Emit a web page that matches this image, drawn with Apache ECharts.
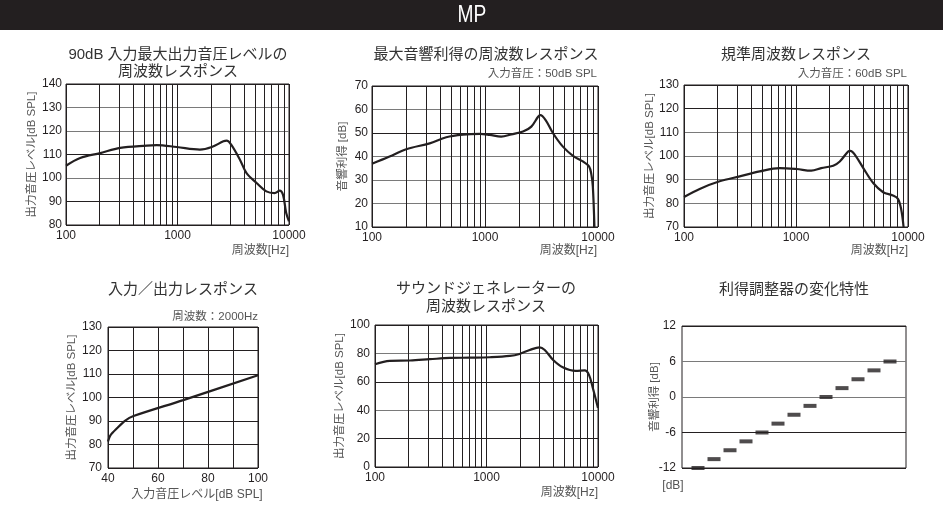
<!DOCTYPE html>
<html><head><meta charset="utf-8">
<script src="https://cdn.jsdelivr.net/npm/echarts@6/dist/echarts.min.js"></script>
<style>html,body{margin:0;padding:0;background:#fff}#c{width:943px;height:514px}</style>
</head><body><div id="c"></div>
<script>
// ---------- data ----------
const chartTitle = 'MP';
const panelTitles = ['90dB 入力最大出力音圧レベルの\n周波数レスポンス', '最大音響利得の周波数レスポンス', '規準周波数レスポンス',
  '入力／出力レスポンス', 'サウンドジェネレーターの\n周波数レスポンス', '利得調整器の変化特性'];
const panelNotes = ['入力音圧：50dB SPL', '入力音圧：60dB SPL', '周波数：2000Hz'];
const freqAxisName = '周波数[Hz]';
const levelAxisName = '出力音圧レベル[dB SPL]';
const gainAxisName = '音響利得 [dB]';
const gainAxisName2 = '音響利得 [dB]';
const inputAxisName = '入力音圧レベル[dB SPL]';
const dbUnit = '[dB]';
const freqMinorGrid = [200,300,400,500,600,700,800,900,2000,3000,4000,5000,6000,7000,8000,9000];

// 1: 90dB input max output
const ospl90Freq  = [100,134,203,306,530,650,983,1590,2030,2580,2760,3030,3630,4160,5120,6260,7430,8240,8830,9440,10000];
const ospl90Level = [105.2,108.5,110.6,112.8,113.8,114.0,113.2,112.1,113.2,115.6,115.9,114.2,107.8,102.1,97.9,94.3,93.6,94.6,92.9,85.1,81.6];
// 2: max acoustic gain
const maxGainFreq = [100,143,201,324,454,638,897,1100,1390,1710,2170,2570,2950,3090,3440,4000,4890,6010,7340,8330,8740,9000,9300];
const maxGainDb   = [36.9,40.0,43.1,45.6,48.2,49.3,49.6,49.2,48.5,49.4,50.6,52.7,56.9,57.6,55.5,49.9,44.2,40.3,37.9,35.8,32.3,27.3,10.0];
// 3: reference frequency response
const refFreq  = [100,138,208,314,474,714,1010,1370,1680,2150,2460,2920,3060,3360,3990,4890,6000,7340,8130,8700,9130];
const refLevel = [82.7,86.1,89.3,91.4,93.5,94.9,94.5,93.8,94.9,95.9,97.7,101.9,102.2,100.5,94.9,88.6,84.7,83.3,81.9,77.4,70.0];
// 4: input/output
const ioInput  = [40,40.9,43.6,46.9,50.2,70.1,100];
const ioOutput = [81.3,83.8,86.9,90.2,92.1,98.9,109.5];
// 5: sound generator
const sgFreq  = [100,136,206,310,470,710,1070,1620,1980,2440,2990,3330,3960,4830,6310,7600,8300,9000,10000];
const sgLevel = [72.4,74.7,75.0,75.9,76.8,77.0,77.3,78.2,79.6,82.4,84.3,82.4,75.4,70.3,67.7,68.0,64.9,55.5,41.5];
// 6: gain control steps
const gainStep  = [1,2,3,4,5,6,7,8,9,10,11,12,13];
const gainValue = [-12,-10.5,-9,-7.5,-6,-4.5,-3,-1.5,0,1.5,3,4.5,6];

// ---------- styling ----------
const FONT = '"Liberation Sans","Noto Sans CJK JP",sans-serif';
const INK = '#231f20';
const GRAY = '#555';
const LG = '#7a7a7a';
const zip = (a, b) => a.map((v, i) => [v, b[i]]);

const grids = [
  {left:66, top:84, width:223, height:141},
  {left:372, top:86, width:226, height:141},
  {left:684, top:85, width:224, height:142},
  {left:108, top:327, width:150, height:141},
  {left:375, top:325, width:223, height:142},
  {left:682, top:326, width:224, height:142}
].map(g => Object.assign(g, {show:true, borderColor:INK, borderWidth:1, containLabel:false}));

const lbl = (margin) => ({color:INK, fontSize:12, fontFamily:FONT, margin:margin});
const freqX = (gi) => ({
  type:'log', logBase:10, min:100, max:10000, gridIndex:gi,
  axisLine:{show:false}, axisTick:{show:false},
  axisLabel:Object.assign(lbl(5), {formatter:v => String(Math.round(v))}),
  splitLine:{show:true, lineStyle:{color:INK, width:1}}
});
const valY = (gi, min, max, step, margin, name, gap, colors) => ({
  type:'value', min:min, max:max, interval:step, gridIndex:gi,
  axisLine:{show:false}, axisTick:{show:false},
  axisLabel:lbl(margin),
  splitLine:{show:true, lineStyle:{color:colors, width:1}},
  name:name, nameLocation:'middle', nameRotate:90, nameGap:gap, nameMoveOverlap:false,
  nameTextStyle:{color:GRAY, fontSize:11.5, fontFamily:FONT}
});
const vgrid = {
  symbol:'none', silent:true, animation:false,
  label:{show:false}, lineStyle:{color:INK, width:1, type:'solid'},
  data:freqMinorGrid.map(f => ({xAxis:f}))
};
const curve = (gi, data, withGrid) => ({
  type:'line', xAxisIndex:gi, yAxisIndex:gi, data:data, smooth:0.35,
  showSymbol:false, lineStyle:{color:INK, width:2.2}, z:5,
  markLine: withGrid ? vgrid : undefined
});
const tstyle = (lh) => ({fontSize:15, fontWeight:'normal', color:'#333', fontFamily:FONT, lineHeight:lh});

const option = {
  animation:false,
  backgroundColor:'#fff',
  title: [
    {text:panelTitles[0], left:178, top:46, textAlign:'center', padding:0, textStyle:tstyle(17)},
    {text:panelTitles[1], left:486, top:46, textAlign:'center', padding:0, textStyle:tstyle(17)},
    {text:panelTitles[2], left:796, top:46, textAlign:'center', padding:0, textStyle:tstyle(17)},
    {text:panelTitles[3], left:183, top:281, textAlign:'center', padding:0, textStyle:tstyle(18)},
    {text:panelTitles[4], left:486, top:280, textAlign:'center', padding:0, textStyle:tstyle(18)},
    {text:panelTitles[5], left:794, top:281, textAlign:'center', padding:0, textStyle:tstyle(18)}
  ],
  graphic: [
    {type:'rect', shape:{x:0, y:0, width:943, height:30}, style:{fill:INK}, silent:true},
    {type:'text', x:472, y:15, scaleX:0.8, style:{text:chartTitle, fill:'#fff', font:'24px "Liberation Sans",sans-serif', textAlign:'center', textVerticalAlign:'middle'}},
    {type:'text', x:597, y:74, style:{text:panelNotes[0], fill:GRAY, font:'11.5px ' + FONT, textAlign:'right', textVerticalAlign:'middle'}},
    {type:'text', x:907, y:74, style:{text:panelNotes[1], fill:GRAY, font:'11.5px ' + FONT, textAlign:'right', textVerticalAlign:'middle'}},
    {type:'text', x:258, y:317, style:{text:panelNotes[2], fill:GRAY, font:'11.5px ' + FONT, textAlign:'right', textVerticalAlign:'middle'}},
    {type:'text', x:289, y:251, style:{text:freqAxisName, fill:GRAY, font:'12px ' + FONT, textAlign:'right', textVerticalAlign:'middle'}},
    {type:'text', x:597, y:251, style:{text:freqAxisName, fill:GRAY, font:'12px ' + FONT, textAlign:'right', textVerticalAlign:'middle'}},
    {type:'text', x:908, y:251, style:{text:freqAxisName, fill:GRAY, font:'12px ' + FONT, textAlign:'right', textVerticalAlign:'middle'}},
    {type:'text', x:598, y:493, style:{text:freqAxisName, fill:GRAY, font:'12px ' + FONT, textAlign:'right', textVerticalAlign:'middle'}},
    {type:'text', x:197, y:495, style:{text:inputAxisName, fill:GRAY, font:'12px ' + FONT, textAlign:'center', textVerticalAlign:'middle'}},
    {type:'text', x:673, y:486, style:{text:dbUnit, fill:GRAY, font:'12px ' + FONT, textAlign:'center', textVerticalAlign:'middle'}}
  ],
  grid: grids,
  xAxis: [
    freqX(0), freqX(1), freqX(2),
    {type:'value', min:40, max:100, interval:10, gridIndex:3, axisLine:{show:false}, axisTick:{show:false},
      axisLabel:Object.assign(lbl(5), {formatter:v => (v % 20 === 0 ? String(v) : '')}),
      splitLine:{show:true, lineStyle:{color:INK, width:1}}},
    freqX(4),
    {type:'value', min:0, max:14, gridIndex:5, show:false, splitLine:{show:false}}
  ],
  yAxis: [
    valY(0, 80, 140, 10, 4, levelAxisName, 28, [INK, INK, LG, INK, LG, LG, INK]),
    valY(1, 10, 70, 10, 4, gainAxisName, 23, [INK, LG, LG, LG, INK, LG, INK]),
    valY(2, 70, 130, 10, 5, levelAxisName, 28, [INK, LG, LG, LG, LG, INK, INK]),
    valY(3, 70, 130, 10, 6, levelAxisName, 30, [INK]),
    valY(4, 0, 100, 20, 5, levelAxisName, 29, [INK, INK, LG, INK, LG, INK]),
    valY(5, -12, 12, 6, 6, gainAxisName2, 21, [INK, INK, LG, LG, INK])
  ],
  series: [
    curve(0, zip(ospl90Freq, ospl90Level), true),
    curve(1, zip(maxGainFreq, maxGainDb), true),
    curve(2, zip(refFreq, refLevel), true),
    {type:'line', xAxisIndex:3, yAxisIndex:3, data:zip(ioInput, ioOutput), smooth:0.3, showSymbol:false, lineStyle:{color:INK, width:2.2}},
    curve(4, zip(sgFreq, sgLevel), true),
    {type:'scatter', xAxisIndex:5, yAxisIndex:5, data:zip(gainStep, gainValue), symbol:'rect', symbolSize:[13,4], itemStyle:{color:INK}}
  ]
};
echarts.init(document.getElementById('c'), null, {renderer:'canvas'}).setOption(option);
</script>
</body></html>
